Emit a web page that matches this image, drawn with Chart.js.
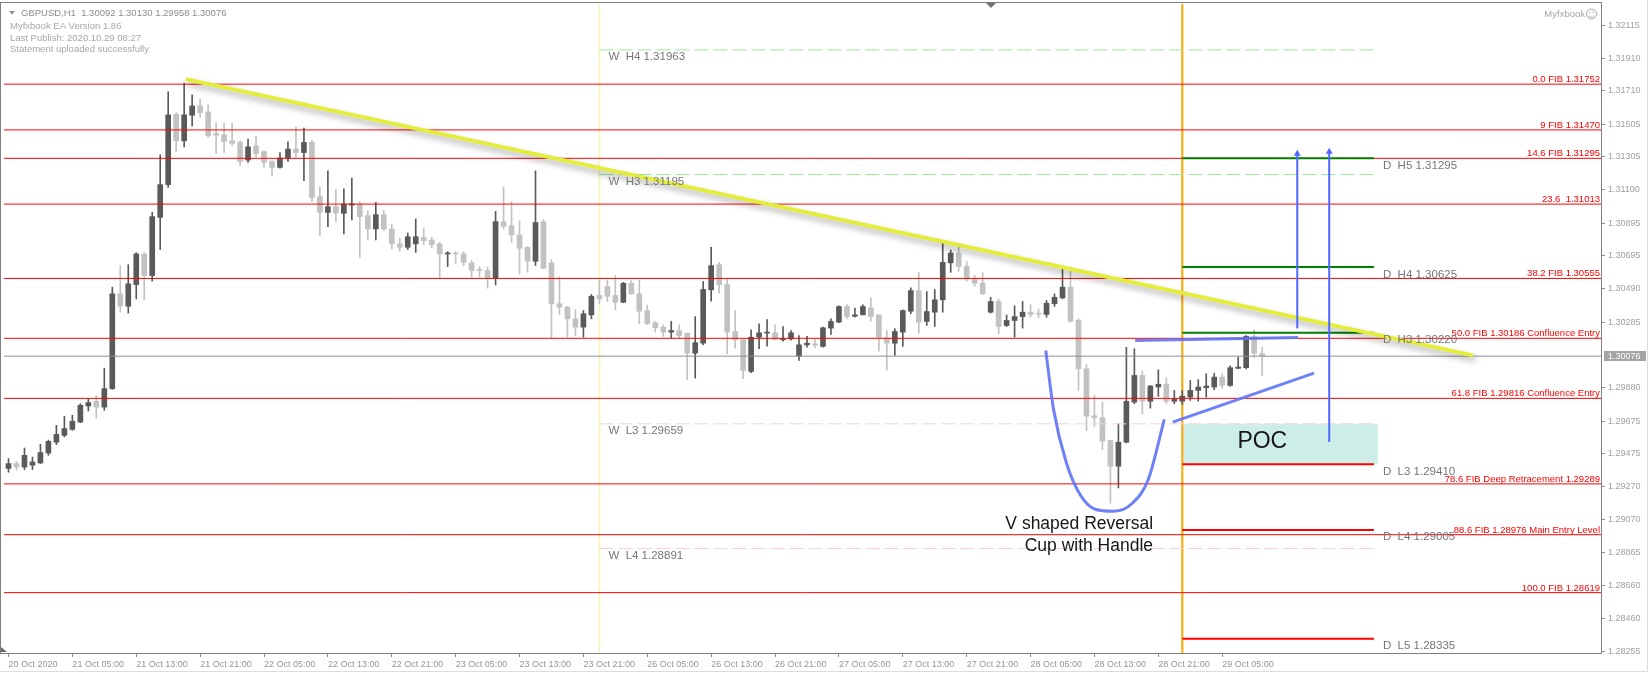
<!DOCTYPE html>
<html>
<head>
<meta charset="utf-8">
<script src="https://cdn.jsdelivr.net/npm/chart.js@4.4.1/dist/chart.umd.min.js"></script>
<style>
html, body { margin: 0; padding: 0; background: #fff; }
canvas { display: block; }
</style>
</head>
<body>
<canvas id="myChart" width="1650" height="677"></canvas>
<script>
// GBPUSD H1 candles, oldest first (bar 0 = 20 Oct 2020)
const opens = [1.29384,1.29414,1.29393,1.29404,1.29418,1.29479,1.29546,1.29588,1.29625,1.29670,1.29769,1.29798,1.29762,1.29876,1.30460,1.30384,1.30517,1.30706,1.30573,1.30931,
1.31133,1.31567,1.31403,1.31561,1.31618,1.31581,1.31448,1.31440,1.31403,1.31393,1.31284,1.31372,1.31337,1.31276,1.31239,1.31297,1.31352,1.31331,1.31393,1.31059,
1.30962,1.30997,1.30956,1.31007,1.31014,1.30942,1.30860,1.30948,1.30860,1.30768,1.30747,1.30768,1.30808,1.30792,1.30768,1.30706,1.30711,1.30706,1.30651,1.30610,
1.30604,1.30556,1.30905,1.30880,1.30823,1.30747,1.30661,1.30905,1.30651,1.30399,1.30378,1.30306,1.30255,1.30330,1.30450,1.30505,1.30450,1.30408,1.30525,1.30460,
1.30357,1.30282,1.30255,1.30224,1.30234,1.30218,1.30095,1.30156,1.30485,1.30640,1.30517,1.30228,1.30177,1.29982,1.30193,1.30218,1.30220,1.30177,1.30183,1.30076,
1.30146,1.30152,1.30136,1.30249,1.30286,1.30382,1.30322,1.30331,1.30374,1.30330,1.30189,1.30156,1.30224,1.30353,1.30480,1.30290,1.30347,1.30423,1.30651,1.30711,
1.30629,1.30552,1.30527,1.30347,1.30413,1.30265,1.30296,1.30320,1.30347,1.30339,1.30333,1.30399,1.30435,1.30501,1.30298,1.29998,1.29709,1.29697,1.29558,1.29398,
1.29546,1.29793,1.29957,1.29798,1.29886,1.29903,1.29798,1.29798,1.29824,1.29865,1.29882,1.29886,1.29947,1.29896,1.30001,1.30005,1.30198,1.30092];
const highs = [1.29445,1.29428,1.29510,1.29454,1.29533,1.29559,1.29650,1.29705,1.29712,1.29783,1.29814,1.29834,1.30002,1.30501,1.30634,1.30640,1.30714,1.30714,1.30962,1.31317,
1.31705,1.31576,1.31758,1.31686,1.31660,1.31625,1.31516,1.31510,1.31510,1.31403,1.31414,1.31434,1.31342,1.31280,1.31331,1.31397,1.31489,1.31481,1.31408,1.31120,
1.31218,1.31102,1.31107,1.31174,1.31028,1.30973,1.31024,1.30973,1.30886,1.30802,1.30835,1.30922,1.30866,1.30808,1.30778,1.30720,1.30720,1.30720,1.30665,1.30628,
1.30625,1.30968,1.31120,1.31028,1.30910,1.30751,1.31218,1.30917,1.30671,1.30565,1.30384,1.30363,1.30357,1.30456,1.30542,1.30545,1.30573,1.30531,1.30542,1.30545,
1.30392,1.30291,1.30269,1.30290,1.30269,1.30218,1.30320,1.30536,1.30747,1.30654,1.30552,1.30357,1.30183,1.30239,1.30276,1.30302,1.30269,1.30258,1.30234,1.30203,
1.30198,1.30183,1.30255,1.30306,1.30386,1.30394,1.30372,1.30392,1.30435,1.30331,1.30234,1.30245,1.30361,1.30497,1.30591,1.30474,1.30487,1.30778,1.30730,1.30757,
1.30661,1.30575,1.30591,1.30439,1.30429,1.30330,1.30386,1.30413,1.30394,1.30367,1.30419,1.30460,1.30625,1.30625,1.30306,1.30025,1.29834,1.29793,1.29558,1.29660,
1.30131,1.30122,1.29984,1.29896,1.29992,1.29943,1.29865,1.29865,1.29926,1.29931,1.29968,1.29971,1.29968,1.30016,1.30070,1.30203,1.30239,1.30130];
const lows = [1.29361,1.29373,1.29377,1.29377,1.29414,1.29465,1.29531,1.29578,1.29619,1.29666,1.29738,1.29695,1.29742,1.29871,1.30347,1.30341,1.30429,1.30423,1.30538,1.30733,
1.31116,1.31337,1.31366,1.31495,1.31547,1.31424,1.31325,1.31331,1.31374,1.31249,1.31270,1.31305,1.31239,1.31187,1.31235,1.31276,1.31300,1.31157,1.31030,1.30819,
1.30874,1.30905,1.30829,1.30915,1.30685,1.30792,1.30792,1.30850,1.30737,1.30722,1.30733,1.30716,1.30763,1.30743,1.30552,1.30628,1.30648,1.30634,1.30562,1.30562,
1.30495,1.30515,1.30860,1.30778,1.30583,1.30593,1.30634,1.30614,1.30187,1.30331,1.30193,1.30203,1.30193,1.30306,1.30399,1.30413,1.30361,1.30405,1.30456,1.30276,
1.30271,1.30224,1.30198,1.30187,1.30187,1.29931,1.29941,1.30146,1.30415,1.30464,1.30091,1.30126,1.29937,1.29975,1.30122,1.30137,1.30175,1.30168,1.30175,1.30050,
1.30131,1.30128,1.30131,1.30210,1.30282,1.30306,1.30316,1.30330,1.30291,1.30107,1.29992,1.30081,1.30136,1.30337,1.30218,1.30265,1.30259,1.30347,1.30593,1.30599,
1.30538,1.30507,1.30456,1.30341,1.30214,1.30259,1.30193,1.30249,1.30316,1.30312,1.30316,1.30382,1.30429,1.30286,1.29865,1.29619,1.29644,1.29500,1.29170,1.29264,
1.29541,1.29783,1.29720,1.29756,1.29828,1.29783,1.29783,1.29777,1.29804,1.29799,1.29824,1.29869,1.29876,1.29890,1.29998,1.29998,1.30070,1.29958];
const closes = [1.29414,1.29393,1.29465,1.29424,1.29482,1.29551,1.29594,1.29630,1.29675,1.29773,1.29790,1.29762,1.29876,1.30460,1.30384,1.30522,1.30706,1.30573,1.30936,1.31133,
1.31563,1.31403,1.31563,1.31618,1.31577,1.31434,1.31438,1.31399,1.31387,1.31276,1.31366,1.31325,1.31270,1.31239,1.31297,1.31352,1.31331,1.31393,1.31054,1.30962,
1.30997,1.30958,1.31014,1.31014,1.30936,1.30860,1.30948,1.30860,1.30768,1.30747,1.30812,1.30812,1.30788,1.30763,1.30706,1.30708,1.30706,1.30654,1.30605,1.30604,
1.30556,1.30905,1.30876,1.30823,1.30741,1.30661,1.30900,1.30618,1.30399,1.30378,1.30306,1.30255,1.30337,1.30445,1.30429,1.30445,1.30408,1.30525,1.30460,1.30353,
1.30276,1.30251,1.30224,1.30234,1.30203,1.30095,1.30159,1.30487,1.30634,1.30517,1.30224,1.30177,1.29988,1.30193,1.30220,1.30224,1.30179,1.30183,1.30220,1.30146,
1.30156,1.30144,1.30251,1.30290,1.30382,1.30320,1.30331,1.30382,1.30320,1.30193,1.30156,1.30228,1.30357,1.30480,1.30286,1.30351,1.30423,1.30654,1.30711,1.30629,
1.30552,1.30525,1.30460,1.30413,1.30259,1.30296,1.30320,1.30347,1.30333,1.30335,1.30402,1.30439,1.30501,1.30291,1.29998,1.29707,1.29697,1.29553,1.29398,1.29546,
1.29798,1.29957,1.29798,1.29892,1.29903,1.29798,1.29810,1.29830,1.29865,1.29886,1.29892,1.29947,1.29896,1.30005,1.30009,1.30198,1.30094,1.30076];

const xTickPos = [0, 8, 16, 24, 32, 40, 48, 56, 64, 72, 80, 88, 96, 104, 112, 120, 128, 136, 144, 152];
const xTickLabels = ['20 Oct 2020', '21 Oct 05:00', '21 Oct 13:00', '21 Oct 21:00', '22 Oct 05:00', '22 Oct 13:00', '22 Oct 21:00',
  '23 Oct 05:00', '23 Oct 13:00', '23 Oct 21:00', '26 Oct 05:00', '26 Oct 13:00', '26 Oct 21:00', '27 Oct 05:00', '27 Oct 13:00',
  '27 Oct 21:00', '28 Oct 05:00', '28 Oct 13:00', '28 Oct 21:00', '29 Oct 05:00'];
const yTicks = [1.32115, 1.31910, 1.31710, 1.31505, 1.31305, 1.31100, 1.30895, 1.30695, 1.30490, 1.30285,
  1.29880, 1.29675, 1.29475, 1.29270, 1.29070, 1.28865, 1.28660, 1.28460, 1.28255];
const lastPrice = 1.30076;

const fibLevels = [1.31752, 1.31470, 1.31295, 1.31013, 1.30555, 1.30186, 1.29816, 1.29289, 1.28976, 1.28619];
const fibLabels = ['0.0 FIB 1.31752', '9 FIB 1.31470', '14.6 FIB 1.31295', '23.6  1.31013', '38.2 FIB 1.30555',
  '50.0 FIB 1.30186 Confluence Entry', '61.8 FIB 1.29816 Confluence Entry', '78.6 FIB Deep Retracement 1.29289',
  '88.6 FIB 1.28976 Main Entry Level', '100.0 FIB 1.28619'];

const dayLevels = [1.31295, 1.30625, 1.30220, 1.29410, 1.29005, 1.28335];
const dayLabels = ['D  H5 1.31295', 'D  H4 1.30625', 'D  H3 1.30220', 'D  L3 1.29410', 'D  L4 1.29005', 'D  L5 1.28335'];
const weekLevels = [1.31963, 1.31195, 1.29659, 1.28891];
const weekLabels = ['W  H4 1.31963', 'W  H3 1.31195', 'W  L3 1.29659', 'W  L4 1.28891'];

const weekStart = 74, dayStart = 147, levelsEnd = 171;
const trendLine = [{ x: 22.2, y: 1.31783 }, { x: 183.4, y: 1.30081 }];
const cupCurve = [{ x: 129.9, y: 1.30111 }, { x: 130.9, y: 1.29742 }, { x: 132.5, y: 1.29416 }, { x: 134.25, y: 1.29219 },
  { x: 136.1, y: 1.29133 }, { x: 138.4, y: 1.29121 }, { x: 140.75, y: 1.29170 }, { x: 142.75, y: 1.29318 }, { x: 144.75, y: 1.29687 }];
const handleTop = [{ x: 141.1, y: 1.30173 }, { x: 161.5, y: 1.30191 }];
const handleBottom = [{ x: 145.8, y: 1.29670 }, { x: 163.5, y: 1.29972 }];
const arrowLong = [{ x: 165.4, y: 1.29547 }, { x: 165.4, y: 1.31336 }];
const arrowShort = [{ x: 161.4, y: 1.30247 }, { x: 161.4, y: 1.31323 }];
const pocBox = { from: 147, to: 171.5, top: 1.29659, bottom: 1.29410 };
const pocText = { x: 153.9, y: 1.29508 };
const noteLines = ['V shaped Reversal', 'Cup with Handle'];
const notePos = [{ x: 134.1, y: 1.29010 }, { x: 135.3, y: 1.28875 }];

const xMin = -0.5625, xMax = 199.4375;
const yMin = 1.28247, yMax = 1.32246;

const FONT = "'Liberation Sans', Arial, sans-serif";
Chart.defaults.font.family = FONT;

const darkC = '#5a5a5a';
const lightC = '#c2c2c2';
const blue = 'rgba(95, 115, 245, 0.9)';

const candleColors = closes.map((c, i) => (c >= opens[i] ? darkC : lightC));

const hline = (v, from, to, color, width, dash, order) => ({
    type: 'line',
    data: [{ x: from, y: v }, { x: to, y: v }],
    borderColor: color,
    borderWidth: width,
    borderDash: dash || [],
    pointRadius: 0,
    fill: false,
    order: order
});

const vline = (v, color, width, order) => ({
    type: 'line',
    data: [{ x: v, y: yMin }, { x: v, y: yMax }],
    borderColor: color,
    borderWidth: width,
    pointRadius: 0,
    fill: false,
    order: order
});

const datasets = [
    // POC zone
    hline(pocBox.bottom, pocBox.from, pocBox.to, 'rgba(0,0,0,0)', 0, null, 20),
    Object.assign(hline(pocBox.top, pocBox.from, pocBox.to, 'rgba(0,0,0,0)', 0, null, 20), { fill: '-1', backgroundColor: '#cdeee8' }),
    vline(weekStart, '#f9f3c6', 2, 19),
    vline(dayStart, '#ffa500', 2, 19),
    {
        type: 'bar',
        data: closes.map((c, i) => ({ x: i, y: [lows[i], highs[i]] })),
        backgroundColor: candleColors,
        barThickness: 1,
        grouped: false,
        borderWidth: 0,
        order: 15
    },
    {
        type: 'bar',
        data: closes.map((c, i) => ({ x: i, y: [opens[i], c] })),
        backgroundColor: candleColors,
        barThickness: 5,
        minBarLength: 1,
        grouped: false,
        borderWidth: 0,
        order: 14
    },
    hline(lastPrice, xMin, xMax, '#8f8f8f', 1, null, 10),
    ...fibLevels.map(v => hline(v, xMin, xMax, '#ff0000', 1, null, 9)),
    ...weekLevels.map((v, k) => hline(v, weekStart, levelsEnd, k < 2 ? '#9be69b' : '#f6d2d2', 1, [14, 5], 11)),
    ...dayLevels.map((v, k) => hline(v, dayStart, levelsEnd, k < 3 ? '#008000' : '#ff0000', 2, null, 8)),
    Object.assign(hline(0, 0, 0, '#e4ee3a', 4, null, 4), { data: trendLine, shadow: true }),
    {
        type: 'line', data: cupCurve, borderColor: blue, borderWidth: 3, pointRadius: 0,
        cubicInterpolationMode: 'monotone', fill: false, order: 2
    },
    Object.assign(hline(0, 0, 0, blue, 3, null, 2), { data: handleTop }),
    Object.assign(hline(0, 0, 0, blue, 3, null, 2), { data: handleBottom }),
    ...[arrowLong, arrowShort].map(a => ({
        type: 'line', data: a, borderColor: '#4d68ff', borderWidth: 2,
        pointStyle: 'triangle', pointRadius: [0, 4], pointBackgroundColor: '#4d68ff', pointBorderWidth: 0,
        fill: false, order: 1
    }))
];

const overlay = {
    id: 'overlay',
    beforeDatasetDraw(chart, args) {
        if (chart.data.datasets[args.index].shadow) {
            const c = chart.ctx;
            c.save();
            c.shadowColor = 'rgba(0,0,0,0.35)';
            c.shadowBlur = 6;
            c.shadowOffsetX = 2;
            c.shadowOffsetY = 4;
        }
    },
    afterDatasetDraw(chart, args) {
        if (chart.data.datasets[args.index].shadow) chart.ctx.restore();
    },
    afterDraw(chart) {
        const { ctx, chartArea: a, scales: { x, y } } = chart;
        const px = v => x.getPixelForValue(v);
        const py = v => y.getPixelForValue(v);
        ctx.save();

        // frame
        ctx.strokeStyle = '#808080';
        ctx.lineWidth = 1;
        ctx.strokeRect(0.5, 2.5, a.right, a.bottom - 2);
        ctx.strokeStyle = '#dcdcdc';
        ctx.beginPath();
        ctx.moveTo(0, 671.5); ctx.lineTo(1647.5, 671.5); ctx.lineTo(1647.5, 0);
        ctx.stroke();

        // chart shift marker and scroll marker
        ctx.fillStyle = '#70707c';
        ctx.beginPath(); ctx.moveTo(986, 3); ctx.lineTo(996, 3); ctx.lineTo(991, 8); ctx.closePath(); ctx.fill();
        ctx.fillStyle = '#6a6a6a';
        ctx.beginPath(); ctx.moveTo(1, 647); ctx.lineTo(7, 652); ctx.lineTo(1, 652); ctx.closePath(); ctx.fill();

        // header
        ctx.textAlign = 'left';
        ctx.textBaseline = 'alphabetic';
        ctx.font = '9.5px ' + FONT;
        ctx.fillStyle = '#8c8c8c';
        ctx.beginPath(); ctx.moveTo(9, 11); ctx.lineTo(15, 11); ctx.lineTo(12, 14.5); ctx.closePath(); ctx.fill();
        ctx.fillText('GBPUSD,H1  1.30092 1.30130 1.29958 1.30076', 21, 16);
        ctx.fillStyle = '#a6a6a6';
        ctx.fillText('Myfxbook EA Version 1.86', 10, 28.5);
        ctx.fillText('Last Publish: 2020.10.29 08:27', 10, 40.5);
        ctx.fillText('Statement uploaded successfully', 10, 52);

        ctx.fillStyle = '#a6a6a6';
        ctx.textAlign = 'right';
        ctx.fillText('Myfxbook', 1585, 17);
        ctx.strokeStyle = '#a6a6a6';
        ctx.beginPath(); ctx.arc(1591.5, 14, 5, 0, Math.PI * 2); ctx.stroke();
        ctx.beginPath(); ctx.arc(1591.5, 14.5, 2.8, 0.15 * Math.PI, 0.85 * Math.PI); ctx.stroke();
        ctx.fillRect(1589.5, 11.5, 1, 1.5); ctx.fillRect(1592.5, 11.5, 1, 1.5);

        // fib labels
        ctx.font = '9.5px ' + FONT;
        ctx.fillStyle = '#ff0000';
        ctx.textAlign = 'right';
        fibLevels.forEach((v, k) => ctx.fillText(fibLabels[k], a.right - 1, py(v) - 2));

        // pivot labels
        ctx.font = '11.5px ' + FONT;
        ctx.fillStyle = '#767676';
        ctx.textAlign = 'left';
        dayLevels.forEach((v, k) => ctx.fillText(dayLabels[k], px(levelsEnd) + 9, py(v) + 10.5));
        weekLevels.forEach((v, k) => ctx.fillText(weekLabels[k], px(weekStart) + 9, py(v) + 10.5));

        // notes
        ctx.fillStyle = '#161616';
        ctx.font = '23px ' + FONT;
        ctx.fillText('POC', px(pocText.x), py(pocText.y));
        ctx.font = '17.5px ' + FONT;
        ctx.textAlign = 'center';
        noteLines.forEach((t, k) => ctx.fillText(t, px(notePos[k].x), py(notePos[k].y)));

        // last price box on the price axis
        const ly = Math.round(py(lastPrice));
        ctx.fillStyle = '#a3a3a3';
        ctx.fillRect(a.right + 3, ly - 5, 42, 10);
        ctx.fillStyle = '#ffffff';
        ctx.font = '9px ' + FONT;
        ctx.textAlign = 'left';
        ctx.textBaseline = 'middle';
        ctx.fillText(lastPrice.toFixed(5), a.right + 7, ly + 0.5);
        ctx.restore();
    }
};

const ctx = document.getElementById('myChart').getContext('2d');

const config = {
    type: 'bar',
    data: { datasets: datasets },
    options: {
        responsive: false,
        animation: false,
        devicePixelRatio: 1,
        layout: { padding: { left: 1, top: 3, right: 0, bottom: 0 } },
        plugins: {
            legend: { display: false },
            tooltip: { enabled: false }
        },
        scales: {
            x: {
                type: 'linear',
                min: xMin,
                max: xMax,
                offset: false,
                grid: { drawOnChartArea: false, tickLength: 4, color: '#909090', offset: false },
                border: { display: false },
                afterBuildTicks: s => { s.ticks = xTickPos.map(v => ({ value: v })); },
                afterFit: s => { s.height = 24; s.paddingLeft = 0; s.paddingRight = 0; },
                ticks: {
                    autoSkip: false,
                    maxRotation: 0,
                    align: 'start',
                    padding: 2,
                    color: '#959595',
                    font: { size: 9 },
                    callback: (v, i) => xTickLabels[i]
                }
            },
            y: {
                type: 'linear',
                position: 'right',
                min: yMin,
                max: yMax,
                grid: { drawOnChartArea: false, tickLength: 4, color: '#909090' },
                border: { display: false },
                afterBuildTicks: s => { s.ticks = yTicks.map(v => ({ value: v })); },
                afterFit: s => { s.width = 49; s.paddingTop = 0; s.paddingBottom = 0; },
                ticks: {
                    autoSkip: false,
                    padding: 3,
                    color: '#a0a0a0',
                    font: { size: 9 },
                    callback: v => v.toFixed(5)
                }
            }
        }
    },
    plugins: [overlay]
};

let myChart = new Chart(ctx, config);
</script>
</body>
</html>
